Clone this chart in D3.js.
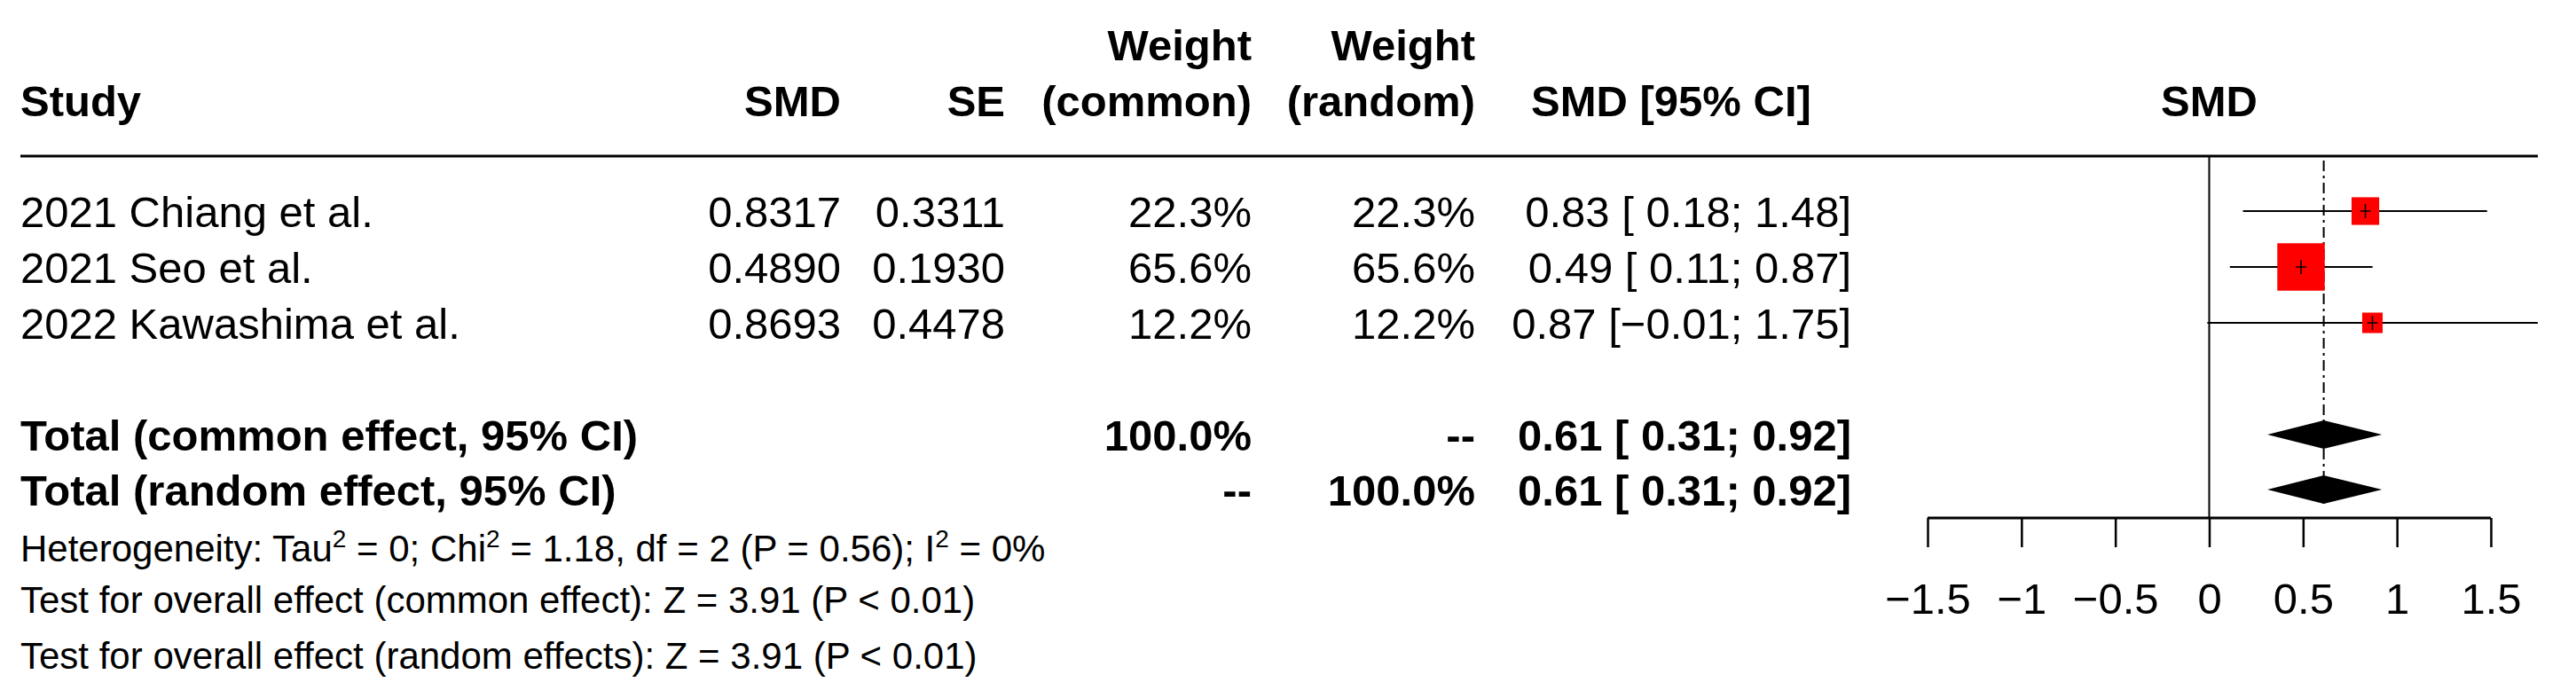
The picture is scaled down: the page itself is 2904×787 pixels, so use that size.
<!DOCTYPE html><html><head><meta charset="utf-8"><script src="https://cdn.jsdelivr.net/npm/d3@7"></script>
<style>body{margin:0;background:#fff}text{font-family:"Liberation Sans",Arial,sans-serif}</style></head><body>
<svg id="c" width="2904" height="787"></svg>
<script>
const studies=["2021 Chiang et al.","2021 Seo et al.","2022 Kawashima et al."];
const smd=[0.8317,0.4890,0.8693];
const se=[0.3311,0.1930,0.4478];
const wCommon=[22.3,65.6,12.2];
const wRandom=[22.3,65.6,12.2];
const ciText=["0.83 [ 0.18; 1.48]","0.49 [ 0.11; 0.87]","0.87 [\u22120.01; 1.75]"];
const lower=[0.18,0.11,-0.01];
const upper=[1.48,0.87,1.75];
const pooled={est:0.61,lo:0.31,hi:0.92};
const ticks=[-1.5,-1,-0.5,0,0.5,1,1.5];
const tickLabels=["\u22121.5","\u22121","\u22120.5","0","0.5","1","1.5"];

const svg=d3.select("#c");
const x=d3.scaleLinear().domain([-1.5,1.5]).range([2173,2808]);
const rowY=[256,319,382], cy=[508,570];
const fs=49;
function t(xp,y,s,anchor,bold,size){return svg.append("text").attr("x",xp).attr("y",y).attr("text-anchor",anchor||"start")
 .attr("font-weight",bold?"bold":"normal").attr("font-size",size||fs).text(s);}
t(1411,68,"Weight","end",1);t(1663,68,"Weight","end",1);
t(23,131,"Study","start",1);t(948,131,"SMD","end",1);t(1133,131,"SE","end",1);
t(1411,131,"(common)","end",1);t(1663,131,"(random)","end",1);t(1726,131,"SMD [95% CI]","start",1);
t(x(0),131,"SMD","middle",1);
svg.append("line").attr("x1",23).attr("x2",2861).attr("y1",176).attr("y2",176).attr("stroke","#000").attr("stroke-width",3);
studies.forEach((s,i)=>{const y=rowY[i];
 t(23,y,s);t(948,y,smd[i].toFixed(4),"end");t(1133,y,se[i].toFixed(4),"end");
 t(1411,y,wCommon[i].toFixed(1)+"%","end");t(1663,y,wRandom[i].toFixed(1)+"%","end");t(2087,y,ciText[i],"end");});
t(23,cy[0],"Total (common effect, 95% CI)","start",1);t(1411,cy[0],"100.0%","end",1);t(1663,cy[0],"--","end",1);t(2087,cy[0],"0.61 [ 0.31; 0.92]","end",1);
t(23,cy[1],"Total (random effect, 95% CI)","start",1);t(1411,cy[1],"--","end",1);t(1663,cy[1],"100.0%","end",1);t(2087,cy[1],"0.61 [ 0.31; 0.92]","end",1);
const fs2=42;
const h=svg.append("text").attr("x",23).attr("y",633).attr("font-size",fs2);
let prevSup=false;
[["Heterogeneity: Tau",0],["2",1],[" = 0; Chi",0],["2",1],[" = 1.18, df = 2 (P = 0.56); I",0],["2",1],[" = 0%",0]].forEach(([s,sup])=>{
 const dy=sup?-16:(prevSup?16:0);
 h.append("tspan").attr("dy",dy).attr("font-size",sup?28:fs2).text(s);
 prevSup=!!sup;});
t(23,691,"Test for overall effect (common effect): Z = 3.91 (P < 0.01)","start",0,fs2);
t(23,754,"Test for overall effect (random effects): Z = 3.91 (P < 0.01)","start",0,fs2);
const xmax=2861;
svg.append("line").attr("x1",x(0)).attr("x2",x(0)).attr("y1",176).attr("y2",584).attr("stroke","#000").attr("stroke-width",2);
svg.append("line").attr("x1",x(pooled.est)).attr("x2",x(pooled.est)).attr("y1",181).attr("y2",570).attr("stroke","#000").attr("stroke-width",2).attr("stroke-dasharray","12,5,3,5");
studies.forEach((s,i)=>{const y=rowY[i]-18;
 svg.append("line").attr("x1",Math.max(x(lower[i]),2150)).attr("x2",Math.min(x(upper[i]),xmax)).attr("y1",y).attr("y2",y).attr("stroke","#000").attr("stroke-width",2);
 const side=6.6*Math.sqrt(wCommon[i]);
 svg.append("rect").attr("x",x(smd[i])-side/2).attr("y",y-side/2).attr("width",side).attr("height",side).attr("fill","#ff0000");
 svg.append("line").attr("x1",x(smd[i])-6).attr("x2",x(smd[i])+6).attr("y1",y).attr("y2",y).attr("stroke","#000").attr("stroke-width",1.5);
 svg.append("line").attr("x1",x(smd[i])).attr("x2",x(smd[i])).attr("y1",y-8).attr("y2",y+8).attr("stroke","#000").attr("stroke-width",1.5);});
cy.forEach(c=>{const y=c-18;
 svg.append("path").attr("d",`M${x(pooled.lo)},${y}L${x(pooled.est)},${y-16}L${x(pooled.hi)},${y}L${x(pooled.est)},${y+16}Z`).attr("fill","#000");});
const ax=svg.append("g").attr("transform","translate(0,584)").call(d3.axisBottom(x).tickValues(ticks).tickSize(33).tickPadding(40).tickFormat((d,i)=>tickLabels[i]));
ax.select(".domain").attr("stroke-width",3).attr("d",`M${x(-1.5)},0H${x(1.5)}`);
ax.selectAll(".tick line").attr("stroke-width",2.5);
ax.selectAll("text").attr("font-size",fs).attr("font-family","Liberation Sans,Arial,sans-serif").attr("fill","#000");
</script></body></html>
